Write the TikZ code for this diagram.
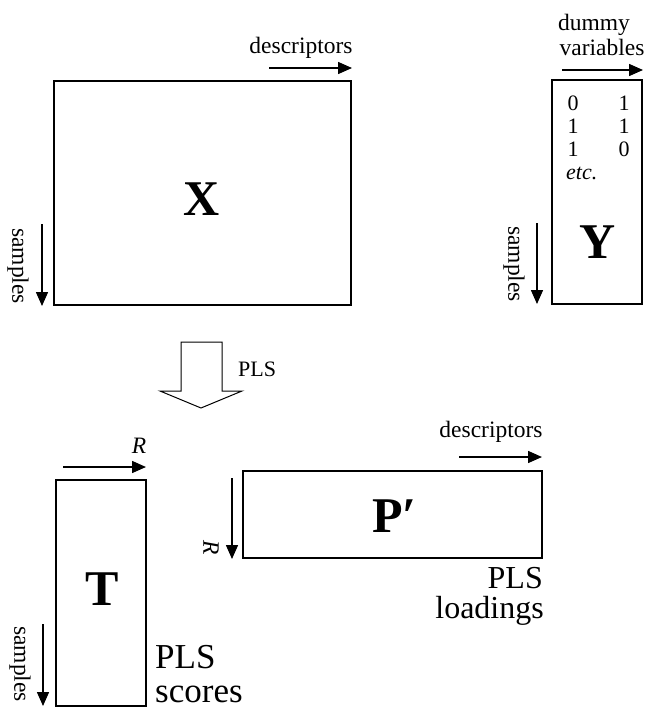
\documentclass[tikz,border=0pt]{standalone}
\usepackage{fontspec}
\setmainfont{Liberation Serif}
\usetikzlibrary{arrows.meta}
\begin{document}
\begin{tikzpicture}[x=1pt,y=-1pt,
  mat/.style={draw,line width=1.5pt},
  dirarrow/.style={line width=1.5pt,-{Triangle[length=14pt,width=12pt]}},
  lbl/.style={inner sep=0pt,font=\fontsize{23.5}{25}\selectfont},
  num/.style={inner sep=0pt,anchor=base,font=\fontsize{22}{24}\selectfont},
  biglbl/.style={inner sep=0pt,font=\fontsize{32}{36}\selectfont},
  letter/.style={inner sep=0pt,anchor=base,font=\fontsize{50}{50}\selectfont\bfseries}]
\useasboundingbox (0,0) rectangle (645,710);

% X matrix
\draw[mat] (54,81) rectangle (351,305);
\node[letter] (xl) at (202,215) {X};
\coordinate (xd1) at (269,68); \coordinate (xd2) at (352,68);
\draw[dirarrow] (xd1) -- (xd2);
\node[lbl,anchor=base] (xdesc) at (301,53) {descriptors};
\coordinate (xs1) at (42,224); \coordinate (xs2) at (42,306);
\draw[dirarrow] (xs1) -- (xs2);
\node[lbl,rotate=-90] (xsam) at (18,266) {samples};

% Y matrix
\draw[mat] (552,80) rectangle (642,304);
\node[letter] (yl) at (598,258) {Y};
\coordinate (yd1) at (562,70); \coordinate (yd2) at (643,70);
\draw[dirarrow] (yd1) -- (yd2);
\node[lbl,anchor=base] (ydum) at (594,30) {dummy};
\node[lbl,anchor=base] (yvar) at (602,55) {variables};
\node[num] (y11) at (573,110) {0};
\node[num] (y12) at (624,110) {1};
\node[num] (y21) at (573,133) {1};
\node[num] (y22) at (624,133) {1};
\node[num] (y31) at (573,156) {1};
\node[num] (y32) at (624,156) {0};
\node[num,anchor=base west] (yetc) at (566,179) {\itshape etc.};
\coordinate (ys1) at (537,223); \coordinate (ys2) at (537,304);
\draw[dirarrow] (ys1) -- (ys2);
\node[lbl,rotate=-90] (ysam) at (514,264) {samples};

% PLS block arrow
\draw[line width=1pt,fill=white] (181,342) -- (222,342) -- (222,391) -- (242,391)
  -- (201,408) -- (160,391) -- (181,391) -- cycle;
\node[num,anchor=base west] (pls) at (238,376) {PLS};

% T matrix
\draw[mat] (56,480) rectangle (146,706);
\node[letter] (tl) at (102,605) {T};
\coordinate (tr1) at (63,467); \coordinate (tr2) at (146,467);
\draw[dirarrow] (tr1) -- (tr2);
\node[lbl] (tR) at (139,446) {\itshape R};
\coordinate (ts1) at (43,624); \coordinate (ts2) at (43,706);
\draw[dirarrow] (ts1) -- (ts2);
\node[lbl,rotate=-90] (tsam) at (20,664) {samples};
\node[biglbl,anchor=base west,font=\fontsize{35}{38}\selectfont] (tpls) at (155,668) {PLS};
\node[biglbl,anchor=base west,font=\fontsize{35}{38}\selectfont] (tsco) at (155,702) {scores};

% P' matrix
\draw[mat] (243,471) rectangle (542,558);
\node[letter,anchor=base west] (pl) at (372,532) {P′};
\coordinate (pd1) at (459,457); \coordinate (pd2) at (542,457);
\draw[dirarrow] (pd1) -- (pd2);
\node[lbl,anchor=base] (pdesc) at (491,437) {descriptors};
\coordinate (pr1) at (232,478); \coordinate (pr2) at (232,559);
\draw[dirarrow] (pr1) -- (pr2);
\node[lbl,rotate=-90] (pR) at (211,548) {\itshape R};
\node[biglbl,anchor=base east] (ppls) at (543,588) {PLS};
\node[biglbl,anchor=base east] (pload) at (544,618) {loadings};
\end{tikzpicture}
\end{document}
